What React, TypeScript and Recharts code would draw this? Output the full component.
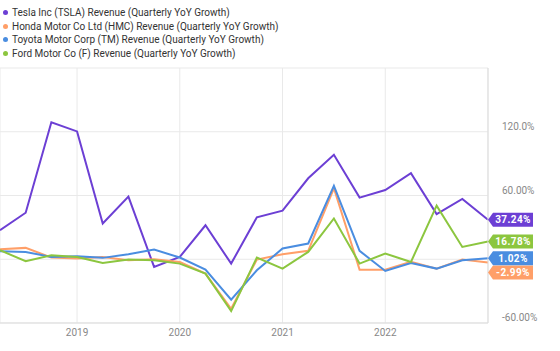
import React from 'react';
import { LineChart, Line, XAxis, YAxis, CartesianGrid, LabelList } from 'recharts';

// quarter ends as decimal years (Mar 2018 .. Dec 2022)
const quarters = [
  2018.25, 2018.5, 2018.75, 2019, 2019.25, 2019.5, 2019.75, 2020, 2020.25, 2020.5,
  2020.75, 2021, 2021.25, 2021.5, 2021.75, 2022, 2022.25, 2022.5, 2022.75, 2023,
];
const tsla = [27.4, 43.8, 129, 120.3, 33.7, 58.9, -7.2, 2.2, 32, -4.1, 39.4, 45.7, 76.2, 98.3, 58, 65.2, 81, 42.5, 56.7, 37.24];
const hmc = [9.4, 10.7, 1.6, 0.6, 2.2, -1, 0, -2.5, -13.5, -46.6, -0.3, 4.7, 7.9, 66.8, -9.8, -9.8, -2.5, -8.8, -0.3, -2.99];
const tm = [7.6, 6.9, 2.2, 2.8, 1.3, 4.7, 9.1, 1.6, -9.7, -38, -10.4, 10.1, 14.8, 69, 7.9, -11, -3.5, -8.8, -1, 1.02];
const ford = [8.5, -1.9, 3.8, 2.2, -3.5, -0.3, -0.9, -4.1, -13.5, -48.8, 1.6, -8.8, 6.9, 38.4, -4.1, 5.4, -2.5, 50.4, 11.6, 16.78];

const yearTicks = [2019, 2020, 2021, 2022];
const yTicks = [-60, 0, 60, 120, 180];
const yTickText: Record<string, string> = { '-60': '-60.00%', '0': '', '60': '60.00%', '120': '120.0%', '180': '' };

const series = [
  { key: 'tsla', name: 'Tesla Inc (TSLA) Revenue (Quarterly YoY Growth)', color: '#6c3fd4', values: tsla, shift: 0 },
  { key: 'hmc', name: 'Honda Motor Co Ltd (HMC) Revenue (Quarterly YoY Growth)', color: '#ff9f68', values: hmc, shift: 10 },
  { key: 'tm', name: 'Toyota Motor Corp (TM) Revenue (Quarterly YoY Growth)', color: '#4a8de0', values: tm, shift: 0 },
  { key: 'ford', name: 'Ford Motor Co (F) Revenue (Quarterly YoY Growth)', color: '#8cc63f', values: ford, shift: 0 },
];

const data = quarters.map((q, i) => {
  const row: any = { q };
  series.forEach((s) => (row[s.key] = s.values[i]));
  return row;
});

const FONT = 'Roboto, sans-serif';

const EndTag = ({ color, shift }: { color: string; shift: number }) => (props: any) => {
  const { x, y, value, index } = props;
  if (index !== quarters.length - 1) return null;
  const cy = y + shift;
  const w = 45;
  const h = 14;
  const pts = `${x},${cy} ${x + 5},${cy - h / 2} ${x + w},${cy - h / 2} ${x + w},${cy + h / 2} ${x + 5},${cy + h / 2}`;
  return (
    <g>
      <polygon points={pts} fill={color} />
      <text x={x + 5 + (w - 5) / 2} y={cy + 3.5} textAnchor="middle" fill="#fff" fontSize={10} fontWeight={700} fontFamily={FONT} letterSpacing={0.4}>
        {`${Number(value).toFixed(2)}%`}
      </text>
    </g>
  );
};

const YTick = (props: any) => {
  const { x, y, payload } = props;
  const txt = yTickText[String(payload.value)];
  if (!txt) return null;
  return (
    <text x={x + 6} y={y - 2} textAnchor="start" fill="#888" fontSize={10} fontFamily={FONT}>
      {txt}
    </text>
  );
};

export default function App() {
  return (
    <div style={{ position: 'absolute', left: 0, top: 0, width: 560, height: 351, background: '#fff' }}>
      <div style={{ position: 'absolute', left: 0, top: 6, fontFamily: FONT, fontSize: 10, color: '#333', lineHeight: '13.6px', zIndex: 1 }}>
        {series.map((s) => (
          <div key={s.key} style={{ display: 'flex', alignItems: 'center', whiteSpace: 'nowrap' }}>
            <span style={{ width: 5, height: 5, borderRadius: 3, background: s.color, marginRight: 4, marginLeft: 3 }} />
            {s.name}
          </div>
        ))}
      </div>
      <LineChart width={560} height={351} data={data} margin={{ top: 68, right: 0, bottom: 0, left: 0 }}>
        <CartesianGrid stroke="#e9e9e9" />
        <XAxis
          dataKey="q"
          type="number"
          domain={[2018.25, 2023]}
          ticks={yearTicks}
          axisLine={{ stroke: '#ddd' }}
          tickLine={false}
          height={28}
          tick={{ fill: '#888', fontSize: 10, fontFamily: FONT, dy: -2 }}
        />
        <YAxis
          orientation="right"
          domain={[-60, 180]}
          ticks={yTicks}
          width={72}
          axisLine={{ stroke: '#ddd' }}
          tickLine={false}
          tick={<YTick />}
        />
        {series.map((s) => (
          <Line
            key={s.key}
            dataKey={s.key}
            name={s.name}
            stroke={s.color}
            strokeWidth={2}
            dot={false}
            type="linear"
            isAnimationActive={false}
          >
            <LabelList dataKey={s.key} content={EndTag({ color: s.color, shift: s.shift })} />
          </Line>
        ))}
      </LineChart>
    </div>
  );
}
